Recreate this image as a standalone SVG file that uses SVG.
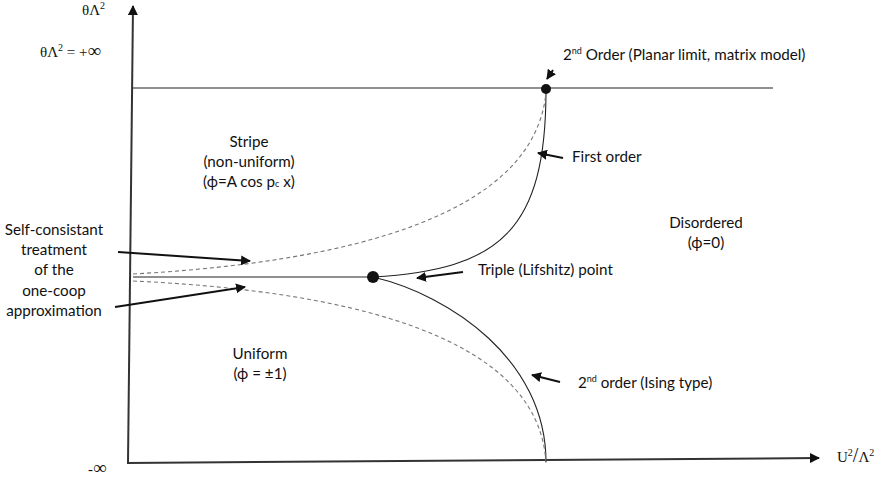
<svg xmlns="http://www.w3.org/2000/svg" width="888" height="480" viewBox="0 0 888 480">
<defs>
<style>
.t{font-family:Lato,"Open Sans","Liberation Sans",sans-serif;font-size:15.2px;fill:#111}
.s{font-family:"Liberation Serif","DejaVu Serif",serif;font-size:15px;fill:#111}
.sol{fill:none;stroke:#222;stroke-width:1.1}
.dash{fill:none;stroke:#777;stroke-width:1.1;stroke-dasharray:4 3}
.arr{fill:none;stroke:#111;stroke-width:2;marker-end:url(#ah)}
.ax{fill:none;stroke:#333;stroke-width:2}
</style>
<marker id="ah" viewBox="0 0 10 10" refX="9" refY="5" markerWidth="5" markerHeight="5" orient="auto" markerUnits="strokeWidth">
<path d="M0,0 L10,5 L0,10 z" fill="#111"/>
</marker>
<marker id="axh" viewBox="0 0 10 10" refX="9" refY="5" markerWidth="5" markerHeight="5" orient="auto" markerUnits="strokeWidth">
<path d="M0,0 L10,5 L0,10 z" fill="#111"/>
</marker>
</defs>
<rect width="888" height="480" fill="#fff"/>

<g id="axes">
<path class="ax" d="M128,463 L133,6" marker-end="url(#axh)"/>
<path class="ax" d="M127,463 L819,458" marker-end="url(#axh)"/>
<text class="s" x="82" y="15">θΛ<tspan font-size="10" dy="-6">2</tspan></text>
<text class="s" x="40" y="57">θΛ<tspan font-size="10" dy="-6">2</tspan><tspan dy="6"> = +</tspan><tspan font-size="19">∞</tspan></text>
<text class="s" x="88" y="474">-<tspan font-size="19">∞</tspan></text>
<text class="s" x="837" y="462">U<tspan font-size="10" dy="-6">2</tspan><tspan dy="6" font-size="20">/</tspan>Λ<tspan font-size="10" dy="-6">2</tspan></text>
</g>

<g id="connectors">
<path class="sol" d="M133,88 L773,88"/>
<path class="sol" d="M133,277 L373,277"/>
<path class="sol" d="M373,277 C500,270 546,230 546,90"/>
<path class="sol" d="M373,277 C450,295 546,360 546,462"/>
<path class="dash" d="M133,274 C350,262 535,215 546,92"/>
<path class="dash" d="M133,281 C330,290 540,330 546,464"/>
<path class="arr" d="M553,70 L547,79"/>
<path class="arr" d="M563,158 L538,153"/>
<path class="arr" d="M463,272 L417,278"/>
<path class="arr" d="M560,382 L532,375"/>
<path class="arr" d="M118,252 L250,261"/>
<path class="arr" d="M115,307 L245,287"/>
</g>

<g id="planar-point">
<circle cx="546" cy="89" r="5" fill="#111"/>
<text class="t" x="563" y="60">2<tspan font-size="9" dy="-6">nd</tspan><tspan dy="6"> Order (Planar limit, matrix model)</tspan></text>
</g>
<g id="triple-point">
<circle cx="373" cy="277" r="6" fill="#111"/>
<text class="t" x="478" y="275">Triple (Lifshitz) point</text>
</g>
<g id="first-order"><text class="t" x="572" y="162">First order</text></g>
<g id="second-order"><text class="t" x="578" y="388">2<tspan font-size="9" dy="-6">nd</tspan><tspan dy="6"> order (Ising type)</tspan></text></g>
<g id="stripe">
<text class="t" text-anchor="middle" x="249" y="147">Stripe</text>
<text class="t" text-anchor="middle" x="249" y="167">(non-uniform)</text>
<text class="t" text-anchor="middle" x="249" y="187">(ϕ=A cos p<tspan font-size="9">c</tspan> x)</text>
</g>
<g id="disordered">
<text class="t" text-anchor="middle" x="706" y="228">Disordered</text>
<text class="t" text-anchor="middle" x="706" y="248">(ϕ=0)</text>
</g>
<g id="uniform">
<text class="t" text-anchor="middle" x="260" y="359">Uniform</text>
<text class="t" text-anchor="middle" x="260" y="379">(ϕ = ±1)</text>
</g>
<g id="self-consistent">
<text class="t" text-anchor="middle" x="54" y="235">Self-consistant</text>
<text class="t" text-anchor="middle" x="54" y="255">treatment</text>
<text class="t" text-anchor="middle" x="54" y="275">of the</text>
<text class="t" text-anchor="middle" x="54" y="296">one-coop</text>
<text class="t" text-anchor="middle" x="54" y="316">approximation</text>
</g>
</svg>
